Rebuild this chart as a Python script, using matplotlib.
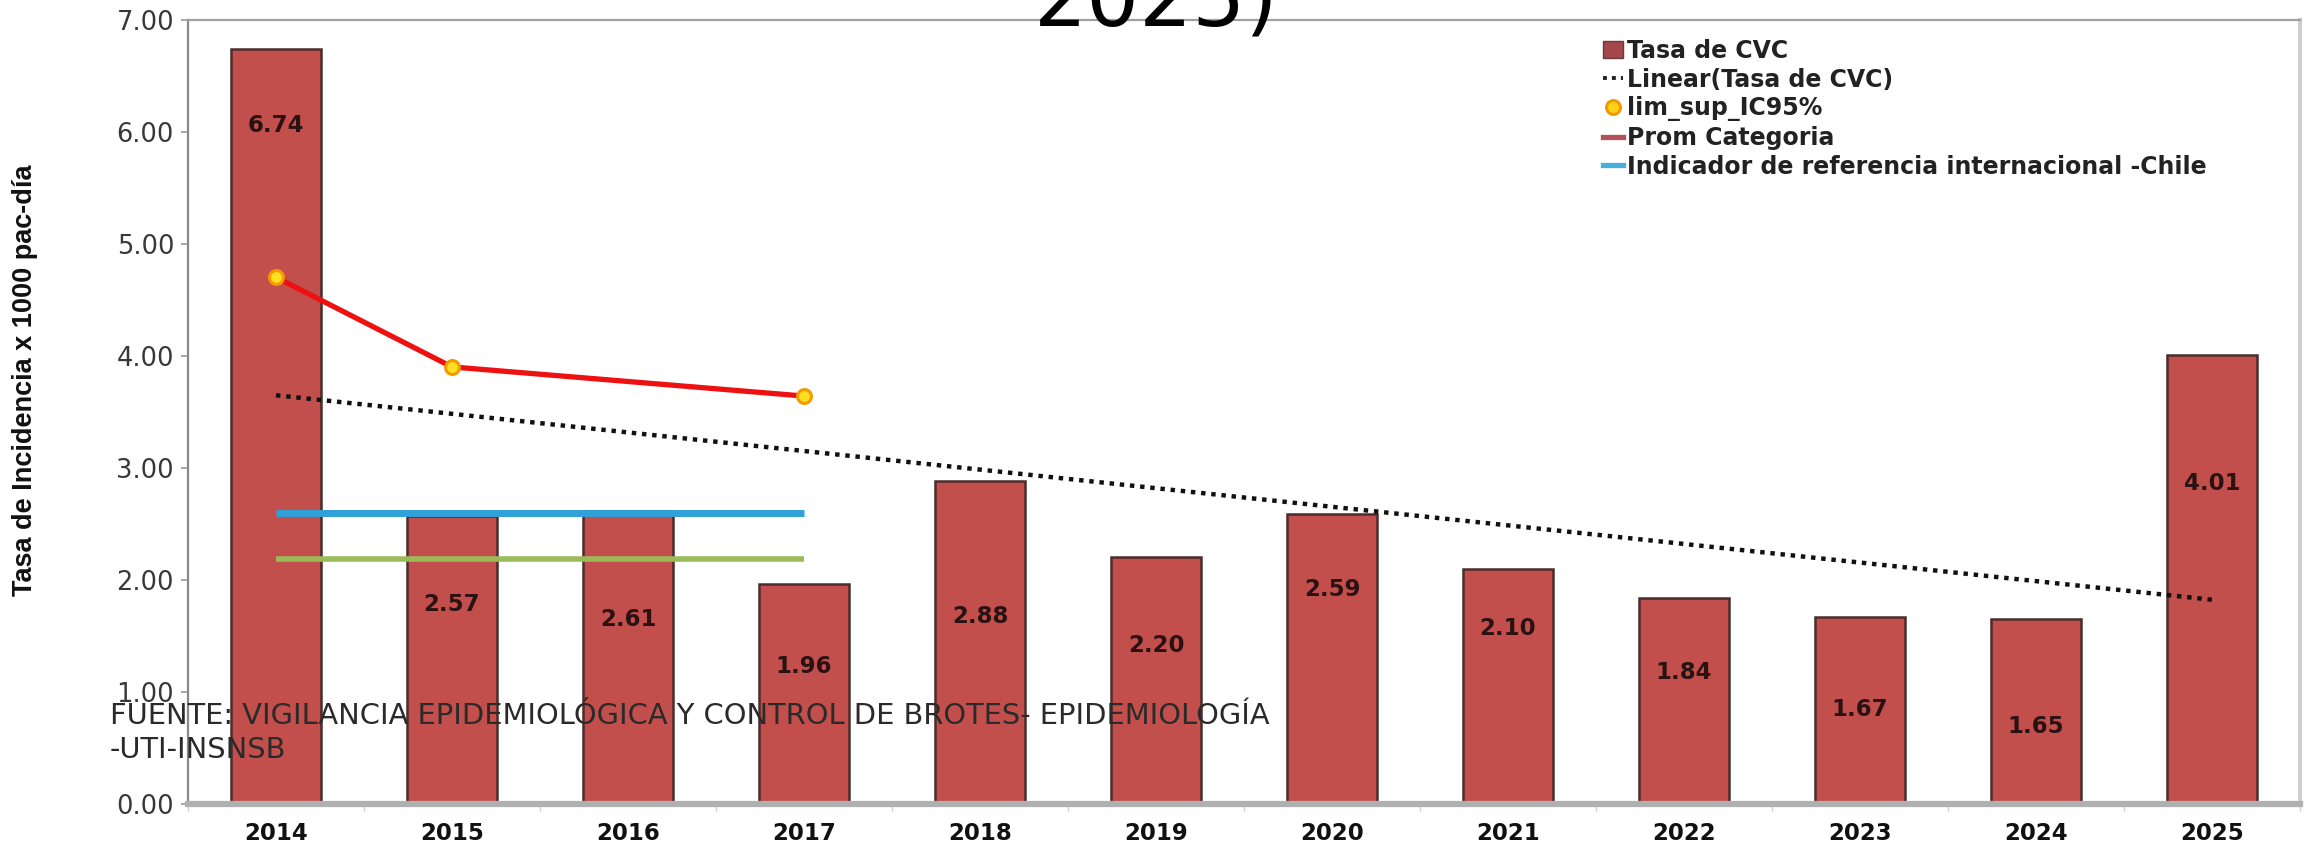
import numpy as np
import matplotlib
matplotlib.use("Agg")
import matplotlib.pyplot as plt
from matplotlib.lines import Line2D
from matplotlib.patches import Patch

# ---------------- data ----------------
years = ["2014", "2015", "2016", "2017", "2018", "2019",
         "2020", "2021", "2022", "2023", "2024", "2025"]
tasa_cvc = [6.74, 2.57, 2.61, 1.96, 2.88, 2.20, 2.59, 2.10, 1.84, 1.67, 1.65, 4.01]

lim_sup_years = ["2014", "2015", "2017"]
lim_sup_ic95 = [4.70, 3.90, 3.64]

ref_years = ["2014", "2015", "2016", "2017"]
indicador_chile = [2.60, 2.60, 2.60, 2.60]
prom_categoria = [2.19, 2.19, 2.19, 2.19]

y_ticks = [0, 1, 2, 3, 4, 5, 6, 7]

legend_labels = ["Tasa de CVC", "Linear(Tasa de CVC)", "lim_sup_IC95%",
                 "Prom Categoria", "Indicador de referencia internacional -Chile"]
y_label = "Tasa de Incidencia x 1000 pac-día"
source_text = "FUENTE: VIGILANCIA EPIDEMIOLÓGICA Y CONTROL DE BROTES- EPIDEMIOLOGÍA\n-UTI-INSNSB"
title_tail = "2025)"

# layout: vertical position (data units) of each bar's value label
label_y = [6.05, 1.78, 1.65, 1.23, 1.67, 1.41, 1.91, 1.57, 1.17, 0.84, 0.69, 2.86]

# ---------------- figure ----------------
W, H, DPI = 2313, 848, 100
fig = plt.figure(figsize=(W / DPI, H / DPI), dpi=DPI)
ax = fig.add_axes([188 / W, 1 - 804 / H, (2300 - 188) / W, (804 - 19.5) / H])

x = np.arange(len(years))
bar_color = "#C24F4C"
edge_color = "#4A2C2C"

ax.bar(x, tasa_cvc, width=0.51, color=bar_color, edgecolor=edge_color,
       linewidth=1.8, zorder=2)

for xi, v, ly in zip(x, tasa_cvc, label_y):
    ax.text(xi, ly, f"{v:.2f}", ha="center", va="center", fontsize=16.5,
            fontweight="bold", color="#2a1212", family="DejaVu Sans", zorder=6)

# reference lines
ref_x = [years.index(y) for y in ref_years]
ax.plot(ref_x, indicador_chile, color="#2FA0D8", lw=5, solid_capstyle="butt", zorder=4)
ax.plot(ref_x, prom_categoria, color="#9BBB59", lw=4, solid_capstyle="butt", zorder=4)

# trend line (linear fit of bars)
coef = np.polyfit(x, tasa_cvc, 1)
ax.plot(x, np.polyval(coef, x), color="#111111", lw=3.2, linestyle=(0, (1.0, 1.3)),
        zorder=5)

# upper limit IC95
ls_x = [years.index(y) for y in lim_sup_years]
ax.plot(ls_x, lim_sup_ic95, color="#EE1111", lw=3.8, marker="o", markersize=10,
        markerfacecolor="#FFE020", markeredgecolor="#F39A00", markeredgewidth=2.2,
        zorder=5)

# axes styling
ax.set_xlim(-0.5, len(years) - 0.5)
ax.set_ylim(0, 7)
ax.set_yticks(y_ticks)
ax.set_yticklabels([f"{t:.2f}" for t in y_ticks])
ax.set_xticks(x)
ax.set_xticklabels(years)
ax.set_xticks(np.arange(len(years) + 1) - 0.5, minor=True)

ax.tick_params(axis="y", which="major", length=5, width=1.2, color="#9a9a9a",
               pad=5, labelsize=18.5, labelcolor="#383838")
ax.tick_params(axis="x", which="major", length=0, pad=13, labelsize=16.5,
               labelcolor="#111111")
ax.tick_params(axis="x", which="minor", length=5, width=1, color="#cfcfcf")
for lab in ax.get_xticklabels():
    lab.set_fontweight("bold")
    lab.set_family("DejaVu Sans")
for lab in ax.get_yticklabels():
    lab.set_family("DejaVu Sans")

ax.spines["left"].set_color("#8a8a8a")
ax.spines["left"].set_linewidth(1.6)
ax.spines["top"].set_color("#a0a0a0")
ax.spines["top"].set_linewidth(1.6)
ax.spines["right"].set_color("#cfcfcf")
ax.spines["right"].set_linewidth(3)
ax.spines["bottom"].set_color("#b0b0b0")
ax.spines["bottom"].set_linewidth(4.5)
ax.set_facecolor("white")

# legend (custom handles mimicking the original)
handles = [
    Patch(facecolor="#A5454C", edgecolor="#6a3a3a"),
    Line2D([0], [0], color="#222222", lw=2.8, linestyle=(0, (1, 1.3))),
    Line2D([0], [0], color="none", marker="o", markersize=10,
           markerfacecolor="#FFD21A", markeredgecolor="#F09A00", markeredgewidth=2.2),
    Line2D([0], [0], color="#B5505A", lw=3.8),
    Line2D([0], [0], color="#45B0DA", lw=3.8),
]
leg = fig.legend(handles, legend_labels, loc="upper left",
                 bbox_to_anchor=(1603 / W, 1 - 39 / H), frameon=False,
                 prop={"family": "DejaVu Sans", "weight": "bold", "size": 17},
                 handlelength=0.85, handleheight=0.75, handletextpad=0.18,
                 labelspacing=0.2, borderpad=0, borderaxespad=0)
for t in leg.get_texts():
    t.set_color("#222222")

# y label
fig.text(25 / W, 1 - 380 / H, y_label, rotation=90, ha="center", va="center",
         fontsize=19.5, fontweight="bold", family="Liberation Sans", color="#111111")

# source note
fig.text(110 / W, 1 - 702 / H, source_text, ha="left", va="top", fontsize=20.8,
         family="DejaVu Sans", color="#2a2a2a", linespacing=1.25, zorder=10)

# clipped title fragment at the very top
fig.text(0.5, 1 - 25 / H, title_tail, ha="center", va="baseline", fontsize=60,
         family="DejaVu Sans", color="black")

fig.savefig("out.png", dpi=DPI, facecolor="white")
